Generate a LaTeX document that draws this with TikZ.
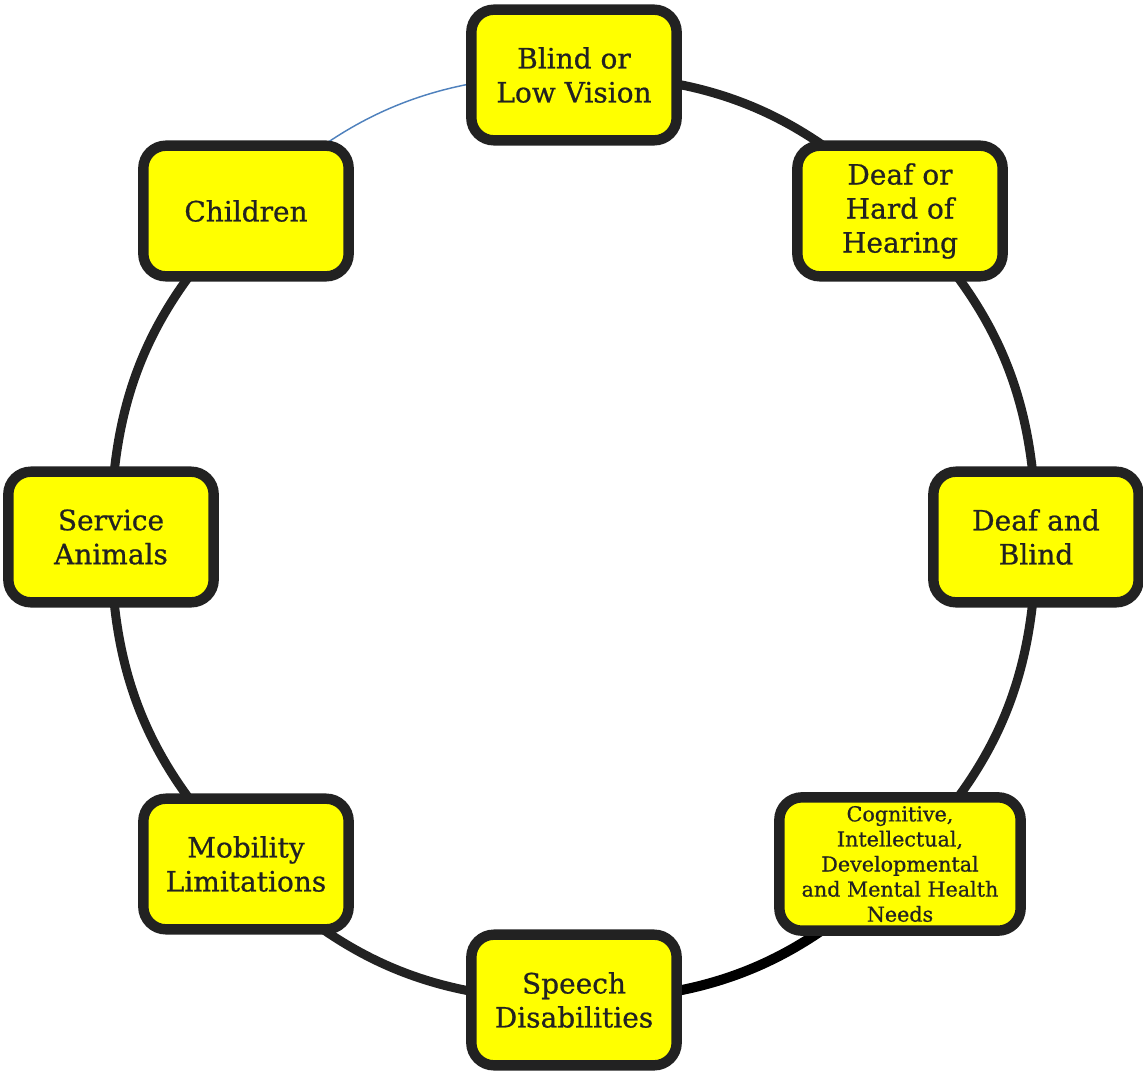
\documentclass[tikz,border=0pt]{standalone}
\usepackage{fontspec}
\setmainfont{DejaVu Serif}
\newfontfamily\topicfont{DejaVu Serif}[FakeBold=0.7]
\usetikzlibrary{backgrounds,shadows}

\tikzset{every picture/.style={line width=0.75pt}}

\begin{document}
\begin{tikzpicture}[x=0.75pt,y=0.75pt,yscale=-1,xscale=1,
  topic/.style={draw={rgb, 255:red, 34; green, 34; blue, 34 }, line width=7.8pt,
    fill={rgb, 255:red, 255; green, 255; blue, 0 }, rounded corners=17pt,
    minimum width=154pt, minimum height=98pt, inner sep=2pt, align=center,
    text={rgb, 255:red, 34; green, 34; blue, 34 },
    font=\topicfont\fontsize{21}{25.5}\selectfont,
    drop shadow={shadow xshift=2.5pt, shadow yshift=-2.5pt, opacity=0.18, fill=black}},
  ring/.style={draw={rgb, 255:red, 34; green, 34; blue, 34 }, line width=6.75pt},
  thinlink/.style={draw={rgb, 255:red, 79; green, 129; blue, 189 }, line width=1.1pt}
]
\useasboundingbox (0,0) rectangle (1143,1072);

%Nodes round the ring, centre (573,537), radius 463
\node [topic] (blind) at (574,75) {Blind or\\Low Vision};
\node [topic] (deafhard) at (900,211) {Deaf or\\Hard of\\Hearing};
\node [topic] (deafblind) at (1036,537) {Deaf and\\Blind};
\node [topic, minimum width=181pt, minimum height=100pt, font=\topicfont\fontsize{15.5}{18.8}\selectfont] (cognitive) at (900,864) {Cognitive,\\Intellectual,\\Developmental\\and Mental Health\\Needs};
\node [topic] (speech) at (574,1000) {Speech\\Disabilities};
\node [topic] (mobility) at (246,864) {Mobility\\Limitations};
\node [topic] (service) at (111,537) {Service\\Animals};
\node [topic] (children) at (246,211) {Children};

%Ring segments, drawn behind the boxes
\begin{scope}[on background layer]
\draw [ring] (blind.center) to[bend right=22.5] (deafhard.center);
\draw [ring] (deafhard.center) to[bend right=22.5] (deafblind.center);
\draw [ring] (deafblind.center) to[bend right=22.5] (cognitive.center);
\draw [ring, draw=black, line width=7.5pt] (cognitive.center) to[bend right=22.5] (speech.center);
\draw [ring] (speech.center) to[bend right=22.5] (mobility.center);
\draw [ring] (mobility.center) to[bend right=22.5] (service.center);
\draw [ring] (service.center) to[bend right=22.5] (children.center);
\draw [thinlink] (children.center) to[bend right=22.5] (blind.center);
\end{scope}
\end{tikzpicture}
\end{document}
